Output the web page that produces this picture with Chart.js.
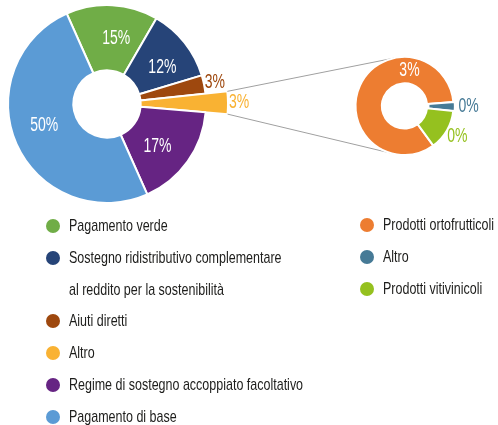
<!DOCTYPE html>
<html>
<head>
<meta charset="utf-8">
<script src="https://cdn.jsdelivr.net/npm/chart.js@4/dist/chart.umd.min.js"></script>
<style>
  html, body { margin: 0; padding: 0; background: #fff; }
  #wrap { position: relative; width: 498px; height: 425px; overflow: hidden; }
  #wrap canvas { position: absolute; left: 0; top: 0; }
  .legend {
    position: absolute;
    font-family: "Liberation Sans", Arial, sans-serif;
    font-size: 17px;
    color: #1d1d1b;
    white-space: nowrap;
  }
  .item { display: flex; align-items: flex-start; }
  .dot { width: 14px; height: 14px; border-radius: 50%; margin-top: 9px; margin-right: 9px; flex: none; }
  .txt {
    display: inline-block;
    line-height: 31.8px;
    white-space: pre;
    transform: scaleX(0.735);
    transform-origin: left center;
  }
</style>
</head>
<body>
<div id="wrap">
  <canvas id="main" width="498" height="425"></canvas>
  <canvas id="detail" width="498" height="425"></canvas>
  <div class="legend" id="legMain" style="left:46px; top:210px;"></div>
  <div class="legend" id="legDetail" style="left:360px; top:209px;"></div>
</div>
<script>
// Ripartizione dei pagamenti diretti (%)
const mainLabels = [
  'Pagamento verde',
  'Sostegno ridistributivo complementare\nal reddito per la sostenibilità',
  'Aiuti diretti',
  'Altro',
  'Regime di sostegno accoppiato facoltativo',
  'Pagamento di base'
];
const mainValues = [15, 12, 3, 3, 17, 50];
const mainColors = ['#70AD47', '#264478', '#9E480E', '#F9B233', '#662483', '#5B9BD5'];

// Dettaglio della voce "Altro" (%)
const detailLabels = ['Prodotti ortofrutticoli', 'Altro', 'Prodotti vitivinicoli'];
const detailValues = [2.51, 0.09, 0.40];
const detailColors = ['#ED7D31', '#467A96', '#95C11F'];

const LABEL_FONT = '20px "Liberation Sans", Arial, sans-serif';
const LABEL_STRETCH = 0.7;   // condensed look for the percentage labels

function drawCondensed(ctx, text, x, y, sx) {
  ctx.save();
  ctx.translate(x, y);
  ctx.scale(sx, 1);
  ctx.fillText(text, 0, 0);
  ctx.restore();
}

// Percentage labels: inside big slices, outside (in the slice colour) for small ones
const sliceLabels = {
  id: 'sliceLabels',
  afterDatasetsDraw(chart, args, opts) {
    const ctx = chart.ctx;
    const ds = chart.data.datasets[0];
    const meta = chart.getDatasetMeta(0);
    const total = ds.data.reduce((a, b) => a + b, 0);
    const shift = (opts.angleShift || 0) * Math.PI / 180;
    ctx.save();
    ctx.font = opts.font;
    ctx.textAlign = 'center';
    ctx.textBaseline = 'middle';
    meta.data.forEach((arc, i) => {
      const v = ds.data[i];
      const inside = v / total >= opts.insideShare;
      const off = arc.options.offset || 0;
      let a = (arc.startAngle + arc.endAngle) / 2;
      if (inside) {
        a += shift;
        if (opts.insideAngle && opts.insideAngle[i] != null) {
          a = opts.insideAngle[i] * Math.PI / 180 - Math.PI / 2;
        }
      }
      const r = inside ? (arc.innerRadius + arc.outerRadius) / 2 + off
                       : arc.outerRadius + off + opts.gap;
      ctx.fillStyle = inside ? '#ffffff' : ds.backgroundColor[i];
      drawCondensed(ctx, Math.round(v) + '%', arc.x + Math.cos(a) * r, arc.y + Math.sin(a) * r, opts.stretch);
    });
    ctx.restore();
  }
};

// Lengthens one slice so it points towards the detail ring
const widenSlice = {
  id: 'widenSlice',
  afterDatasetUpdate(chart, args, opts) {
    if (opts.index == null) return;
    const el = args.meta.data[opts.index];
    if (el) el.outerRadius = opts.outerRadius;
  }
};

const mainChart = new Chart(document.getElementById('main'), {
  type: 'doughnut',
  data: {
    labels: mainLabels,
    datasets: [{
      data: mainValues,
      backgroundColor: mainColors,
      borderColor: '#ffffff',
      borderWidth: 2
    }]
  },
  options: {
    responsive: false,
    animation: false,
    events: [],
    rotation: -24,
    radius: 99,
    cutout: 35,
    layout: { padding: { left: 0, top: 0, right: 284, bottom: 217 } },
    plugins: {
      legend: { display: false },
      tooltip: { enabled: false },
      widenSlice: { index: 3, outerRadius: 121 },
      sliceLabels: { font: LABEL_FONT, stretch: LABEL_STRETCH, insideShare: 0.05, gap: 11, angleShift: 5 }
    }
  },
  plugins: [widenSlice, sliceLabels]
});

// Grey guide lines from the lengthened slice to the detail ring
const connector = {
  id: 'connector',
  beforeDatasetsDraw(chart, args, opts) {
    const src = mainChart.getDatasetMeta(0).data[opts.sliceIndex];
    const ring = chart.getDatasetMeta(0).data[0];
    if (!src || !ring) return;
    const cx = ring.x, cy = ring.y, R = ring.outerRadius;
    const corner = a => ({ x: src.x + Math.cos(a) * src.outerRadius, y: src.y + Math.sin(a) * src.outerRadius });
    const tangent = (P, sign) => {
      const dx = cx - P.x, dy = cy - P.y;
      const d = Math.hypot(dx, dy);
      const t = Math.atan2(dy, dx) + sign * Math.asin(R / d);
      const L = Math.sqrt(d * d - R * R);
      return { x: P.x + Math.cos(t) * L, y: P.y + Math.sin(t) * L };
    };
    const p1 = corner(src.startAngle), p2 = corner(src.endAngle);
    const t1 = tangent(p1, -1), t2 = tangent(p2, 1);
    const ctx = chart.ctx;
    ctx.save();
    ctx.strokeStyle = opts.color;
    ctx.lineWidth = 1;
    ctx.beginPath();
    ctx.moveTo(p1.x, p1.y); ctx.lineTo(t1.x, t1.y);
    ctx.moveTo(p2.x, p2.y); ctx.lineTo(t2.x, t2.y);
    ctx.stroke();
    ctx.restore();
  }
};

const detailChart = new Chart(document.getElementById('detail'), {
  type: 'doughnut',
  data: {
    labels: detailLabels,
    datasets: [{
      data: detailValues,
      backgroundColor: detailColors,
      borderColor: '#ffffff',
      borderWidth: 2,
      offset: [0, 3, 0]
    }]
  },
  options: {
    responsive: false,
    animation: false,
    events: [],
    rotation: 144,
    radius: 49,
    cutout: 21,
    layout: { padding: { left: 356, top: 58, right: 45, bottom: 271 } },
    plugins: {
      legend: { display: false },
      tooltip: { enabled: false },
      connector: { sliceIndex: 3, color: '#A0A0A0' },
      sliceLabels: { font: LABEL_FONT, stretch: LABEL_STRETCH, insideShare: 0.5, gap: 12, insideAngle: { 0: 8 } }
    }
  },
  plugins: [connector, sliceLabels]
});

// HTML legends built from the chart data
function buildLegend(el, labels, colors) {
  labels.forEach((lab, i) => {
    const item = document.createElement('div');
    item.className = 'item';
    const dot = document.createElement('span');
    dot.className = 'dot';
    dot.style.background = colors[i];
    const txt = document.createElement('span');
    txt.className = 'txt';
    txt.textContent = lab;
    item.appendChild(dot);
    item.appendChild(txt);
    el.appendChild(item);
  });
}
buildLegend(document.getElementById('legMain'), mainLabels, mainColors);
buildLegend(document.getElementById('legDetail'), detailLabels, detailColors);
</script>
</body>
</html>
